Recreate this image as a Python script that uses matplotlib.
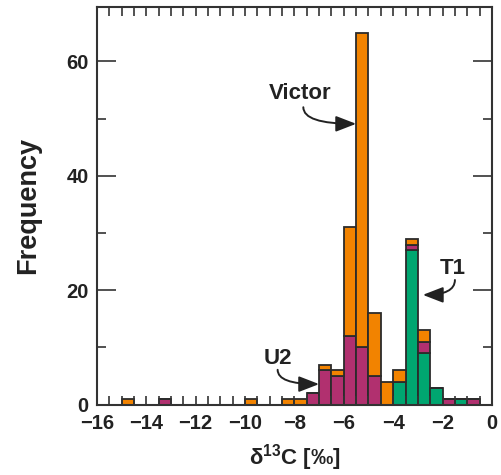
import numpy as np
import matplotlib
matplotlib.use("Agg")
from matplotlib import pyplot as plt
from matplotlib.ticker import MultipleLocator

plt.rcParams['font.family'] = ['Liberation Sans', 'DejaVu Sans']
plt.rcParams['mathtext.default'] = 'regular'

# histogram bins (d13C, permil), width 0.5
bin_edges = np.arange(-16, 0.01, 0.5)

t1 =     [0,0,0,0,0,0,0,0,0,0,0,0,0,0,0,0, 0,0,0,0,0,0,0,0,4,27,9,3,0,1,0,0]
u2 =     [0,0,0,0,0,1,0,0,0,0,0,0,0,0,0,0, 0,2,6,5,12,10,5,0,0,1,2,0,1,0,1,0]
victor = [0,0,1,0,0,0,0,0,0,0,0,0,1,0,0,1, 1,0,1,1,19,55,11,4,2,1,2,0,0,0,0,0]

c_t1 = '#00A670'
c_u2 = '#B1306F'
c_vic = '#F28300'
edge = '#2b2b2b'
dark = '#222222'

fig = plt.figure(figsize=(5.02, 4.75), dpi=100)
ax = fig.add_axes([0.193, 0.148, 0.787, 0.837])

left = bin_edges[:-1]
t1 = np.array(t1); u2 = np.array(u2); victor = np.array(victor)
kw = dict(width=0.5, align='edge', edgecolor=edge, linewidth=1.3)
ax.bar(left, t1, color=c_t1, **kw)
ax.bar(left, u2, bottom=t1, color=c_u2, **kw)
ax.bar(left, victor, bottom=t1 + u2, color=c_vic, **kw)

ax.set_xlim(-16, 0)
ax.set_ylim(0, 69.5)

for s in ax.spines.values():
    s.set_color('#333333')
    s.set_linewidth(1.5)

ax.xaxis.set_major_locator(MultipleLocator(2))
ax.xaxis.set_minor_locator(MultipleLocator(0.5))
ax.yaxis.set_major_locator(MultipleLocator(20))
ax.yaxis.set_minor_locator(MultipleLocator(10))
ax.tick_params(axis='x', which='both', direction='in', top=True, bottom=True,
               length=6.5, width=1.2, color='#333333', pad=7)
ax.tick_params(axis='y', which='major', direction='in', left=True, right=True,
               length=14, width=1.2, color='#333333', pad=6)
ax.tick_params(axis='y', which='minor', direction='in', left=True, right=True,
               length=6.5, width=1.2, color='#333333')
ax.tick_params(labelsize=14.5)
for lab in ax.get_xticklabels() + ax.get_yticklabels():
    lab.set_fontweight('bold')
    lab.set_color(dark)

ax.set_ylabel('Frequency', fontsize=19.5, fontweight='bold', color=dark, labelpad=18)
ax.set_xlabel(r'δ$^{13}$C [‰]', fontsize=16, fontweight='bold', color=dark, labelpad=6)

arr = dict(arrowstyle='-|>,head_length=0.62,head_width=0.24', color=dark, lw=1.4,
           mutation_scale=20, shrinkA=0, shrinkB=0)
labels = [('Victor', (-7.75, 54.4), (-7.64, 52.0), (-5.5, 49.1)),
          ('T1', (-1.58, 23.8), (-1.5, 21.8), (-2.8, 19.2)),
          ('U2', (-8.67, 8.0), (-8.68, 6.1), (-7.0, 3.6))]
for name, txt, start, tip in labels:
    ax.text(txt[0], txt[1], name, fontsize=16, fontweight='bold', color=dark,
            ha='center', va='center')
    ax.annotate('', xy=tip, xytext=start,
                arrowprops=dict(connectionstyle='angle3,angleA=90,angleB=0', **arr))

fig.savefig('out.png', dpi=100)
